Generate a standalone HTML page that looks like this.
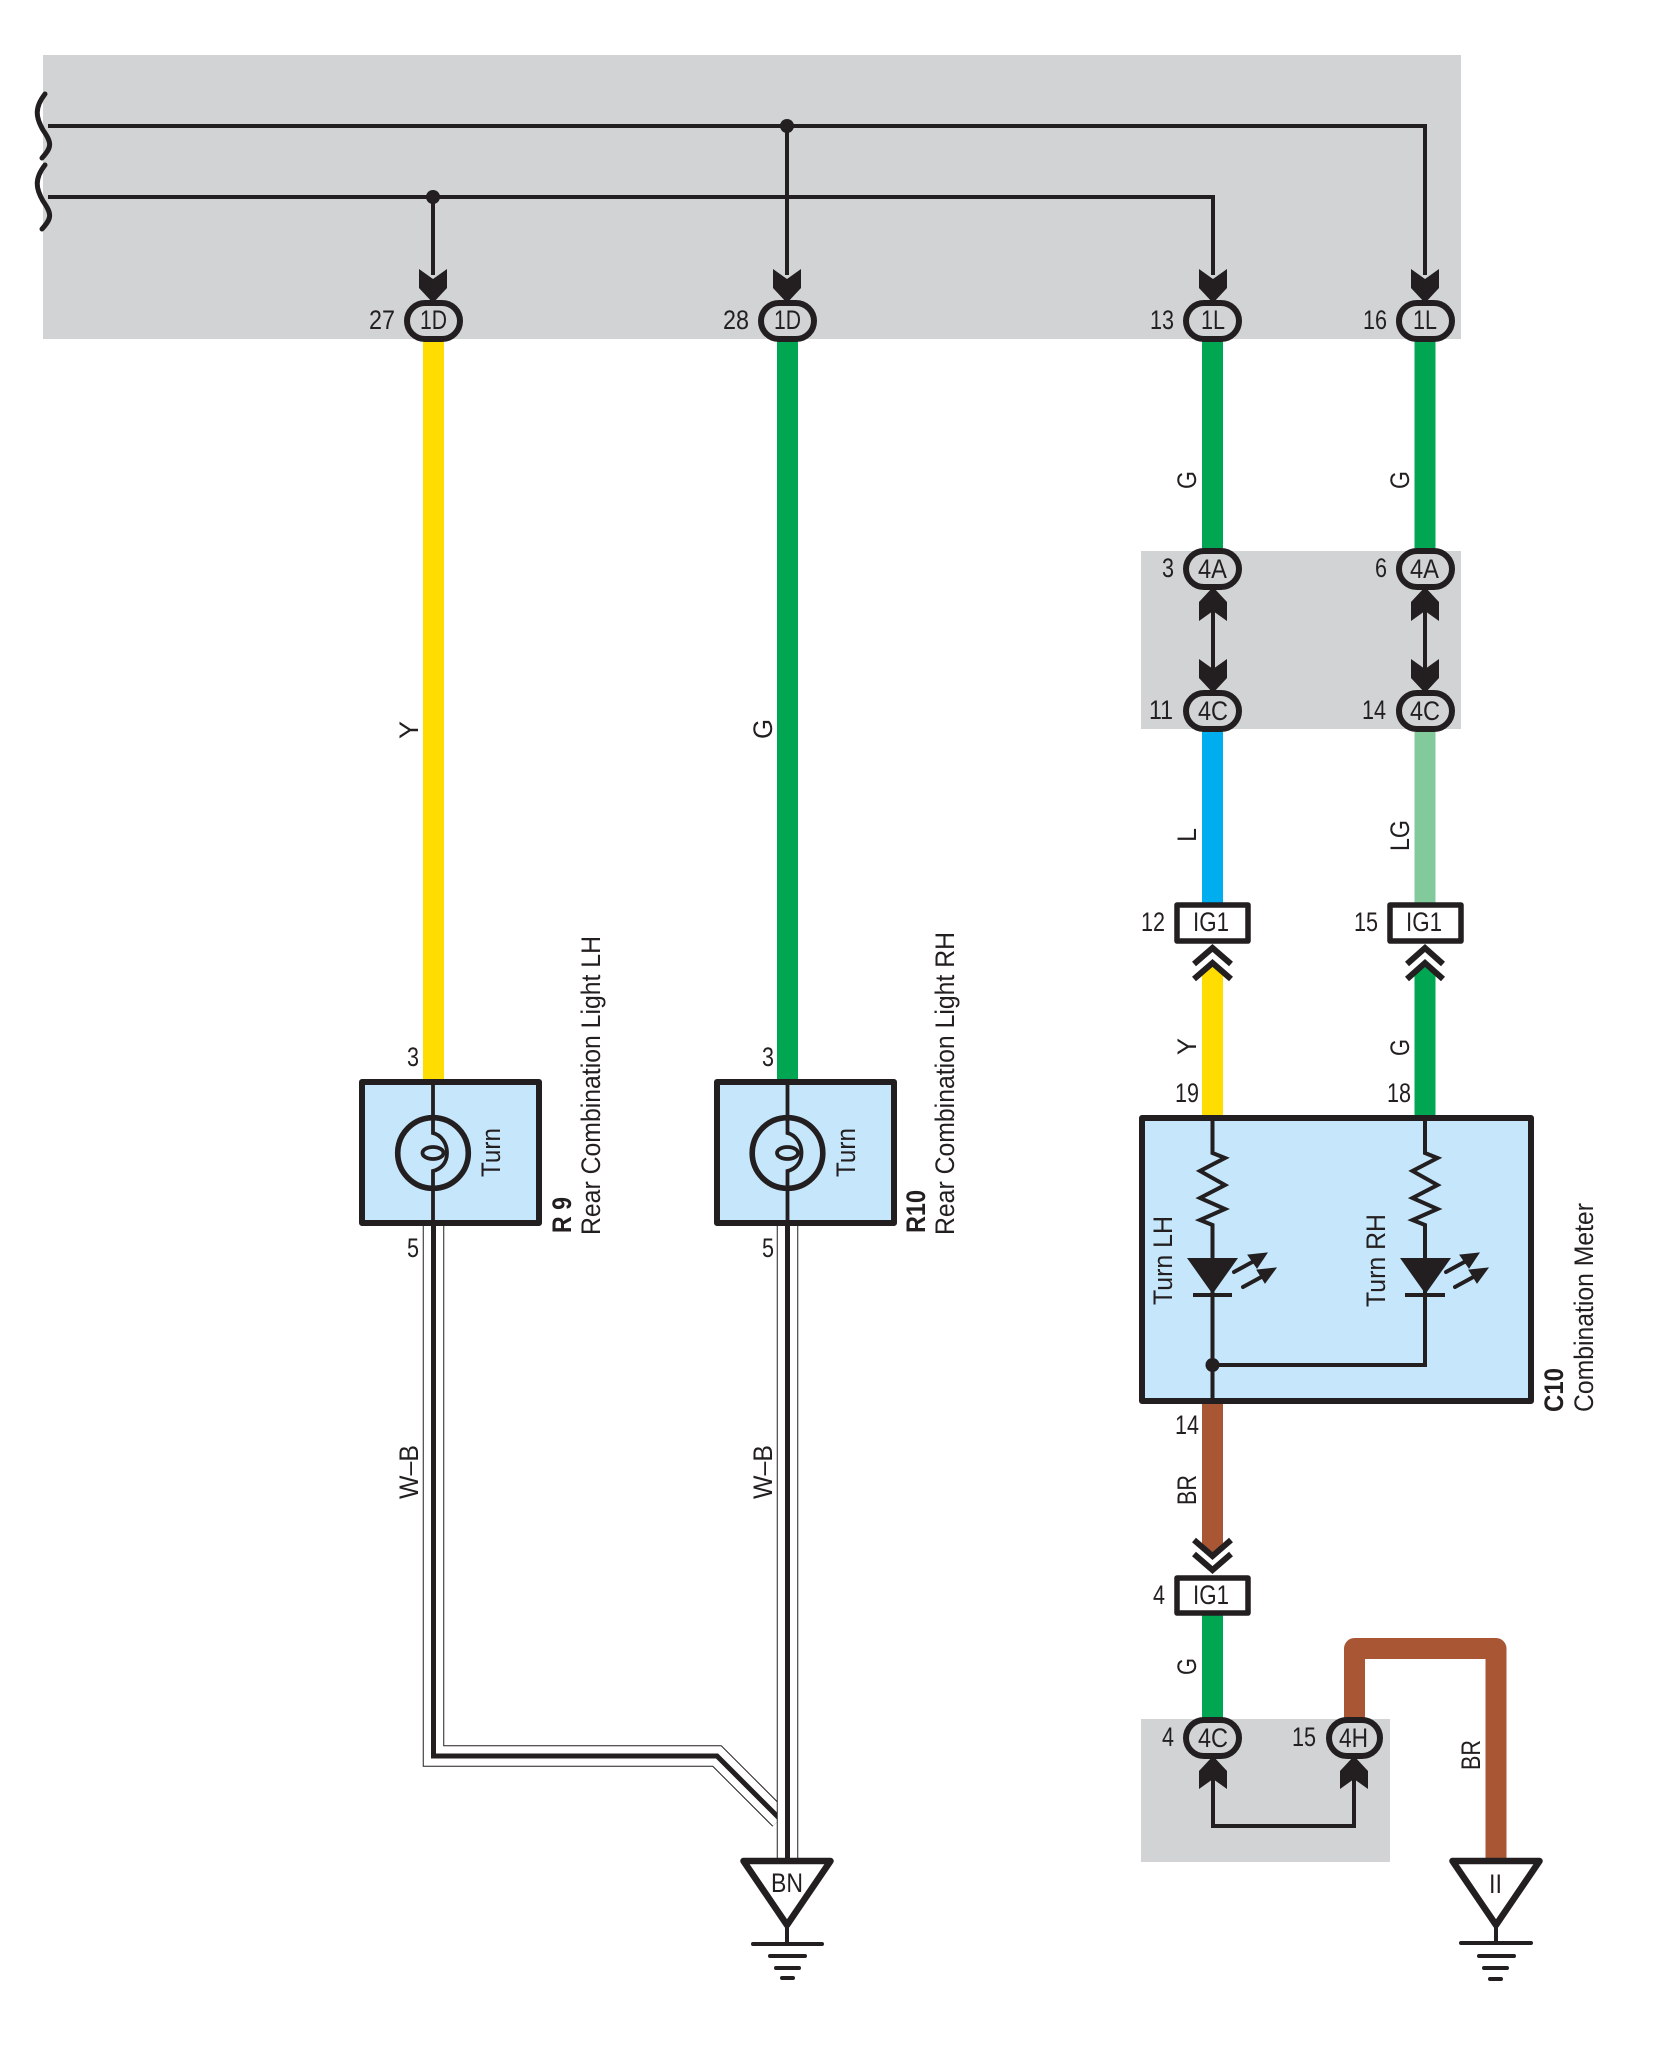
<!DOCTYPE html>
<html><head><meta charset="utf-8"><style>
html,body{margin:0;padding:0;background:#fff}
svg{display:block}
text{font-family:"Liberation Sans",sans-serif;font-size:27px;fill:#231f20}
.b{font-weight:bold}
</style></head><body>
<svg width="1656" height="2046" viewBox="0 0 1656 2046" xmlns="http://www.w3.org/2000/svg">
<!-- gray areas -->
<g fill="#d1d3d4">
<rect x="43" y="55" width="1418" height="284"/>
<rect x="1141" y="551" width="320" height="178"/>
<rect x="1141" y="1719" width="249" height="143"/>
</g>
<!-- color wires -->
<g fill="none" stroke-width="21">
<path d="M433.5 335V1085" stroke="#ffdd00"/>
<path d="M787.5 335V1085" stroke="#00a651"/>
<path d="M1212.5 335V555" stroke="#00a651"/>
<path d="M1425 335V555" stroke="#00a651"/>
<path d="M1212.5 725V905" stroke="#00aeef"/>
<path d="M1425 725V905" stroke="#82ca9c"/>
<path d="M1212.5 1610V1722" stroke="#00a651"/>
<path d="M1354.5 1722V1648.500H1496V1862" stroke="#a85634" stroke-linejoin="round"/>
</g>
<path d="M1202 1118V975L1212.500 965L1223 975V1118Z" fill="#ffdd00"/>
<path d="M1414.500 1118V975L1425 965L1435.500 975V1118Z" fill="#00a651"/>
<path d="M1202 1400V1543L1212.500 1554L1223 1543V1400Z" fill="#a85634"/>
<!-- boxes -->
<g fill="#c6e7fb" stroke="#231f20" stroke-width="6" stroke-linejoin="round">
<rect x="362" y="1082" width="177" height="141"/>
<rect x="717" y="1082" width="177" height="141"/>
<rect x="1142" y="1118" width="389" height="283"/>
</g>
<!-- top bus -->
<g fill="none" stroke="#231f20" stroke-width="4">
<path d="M48 126H1425V275"/>
<path d="M48 197H1213V275"/>
<path d="M433 197V275"/>
<path d="M787 126V275"/>
<path d="M1213 600V680"/>
<path d="M1425 600V680"/>
<path d="M1213 1770V1826H1354V1770"/>
</g>
<g fill="none" stroke="#231f20" stroke-width="5" stroke-linecap="round">
<path d="M45 94C34 108 36 118 43 130C52 143 52 147 42 158"/>
<path d="M45 165C34 179 36 189 43 201C52 214 52 218 42 229"/>
</g>
<g fill="#231f20">
<circle cx="433" cy="197" r="7"/>
<circle cx="787" cy="126" r="7"/>
<circle cx="1212.500" cy="1365" r="7"/>
</g>
<!-- arrows -->
<g fill="#231f20">
<path d="M419 269L433 279L447 269V288L433 303L419 288Z"/>
<path d="M773 269L787 279L801 269V288L787 303L773 288Z"/>
<path d="M1199 269L1213 279L1227 269V288L1213 303L1199 288Z"/>
<path d="M1411 269L1425 279L1439 269V288L1425 303L1411 288Z"/>
<path d="M1199 659L1213 669L1227 659V678L1213 693L1199 678Z"/>
<path d="M1411 659L1425 669L1439 659V678L1425 693L1411 678Z"/>
<path d="M1199 621L1213 611L1227 621V602L1213 587L1199 602Z"/>
<path d="M1411 621L1425 611L1439 621V602L1425 587L1411 602Z"/>
<path d="M1199 1789L1213 1779L1227 1789V1771L1213 1756L1199 1771Z"/>
<path d="M1340 1789L1354 1779L1368 1789V1771L1354 1756L1340 1771Z"/>
</g>
<!-- connectors oval -->
<g fill="#d1d3d4" stroke="#231f20" stroke-width="6">
<rect x="407" y="303" width="53" height="36" rx="18"/>
<rect x="761" y="303" width="53" height="36" rx="18"/>
<rect x="1186" y="303" width="53" height="36" rx="18"/>
<rect x="1399" y="303" width="53" height="36" rx="18"/>
<rect x="1186" y="551" width="53" height="36" rx="18"/>
<rect x="1399" y="551" width="53" height="36" rx="18"/>
<rect x="1186" y="693" width="53" height="36" rx="18"/>
<rect x="1399" y="693" width="53" height="36" rx="18"/>
<rect x="1186" y="1720" width="53" height="36" rx="18"/>
<rect x="1329" y="1720" width="51" height="36" rx="18"/>
</g>
<!-- IG1 boxes -->
<g fill="#fff" stroke="#231f20" stroke-width="5.500" stroke-linejoin="round">
<rect x="1177" y="905" width="71" height="36"/>
<rect x="1390" y="905" width="71" height="36"/>
<rect x="1177" y="1578" width="71" height="35"/>
</g>
<!-- chevrons -->
<g fill="none" stroke="#231f20" stroke-width="6">
<path d="M1194 964L1212.500 948L1231 964"/>
<path d="M1194 979L1212.500 963L1231 979"/>
<path d="M1407 964L1425 948L1443 964"/>
<path d="M1407 979L1425 963L1443 979"/>
<path d="M1194 1540L1212.500 1556L1231 1540"/>
<path d="M1194 1554L1212.500 1570L1231 1554"/>
</g>
<!-- bulbs -->
<g fill="none" stroke="#231f20">
<g stroke-width="3.800">
<path d="M433 1083V1133C441 1135 447 1143 447 1153C447 1163 441 1169 433 1171V1226"/>
<ellipse cx="433" cy="1153" rx="10.500" ry="6"/>
<path d="M787.500 1083V1133C795.500 1135 801.500 1143 801.500 1153C801.500 1163 795.500 1169 787.500 1171V1226"/>
<ellipse cx="787.500" cy="1153" rx="10.500" ry="6"/>
</g>
<circle cx="433" cy="1153" r="35.300" stroke-width="5.600"/>
<circle cx="787.500" cy="1153" r="35.300" stroke-width="5.600"/>
</g>
<!-- meter internals -->
<g fill="none" stroke="#231f20" stroke-width="4">
<path d="M1212.500 1118V1153L1225 1158L1200 1171L1225 1185L1200 1198L1225 1209L1200 1220L1212.500 1225V1404"/>
<path d="M1425 1118V1153L1437.500 1158L1412.500 1171L1437.500 1185L1412.500 1198L1437.500 1209L1412.500 1220L1425 1225V1365H1212.500"/>
<path d="M1193 1295H1232"/>
<path d="M1405 1295H1445"/>
</g>
<g fill="#231f20">
<path d="M1187 1258H1238L1212.500 1294Z"/>
<path d="M1400 1258H1451L1425.500 1294Z"/>
</g>
<g stroke="#231f20" stroke-width="4" fill="#231f20" stroke-linecap="round">
<path d="M1234 1272L1256 1260" />
<path d="M1267 1253L1248 1255L1257 1268Z" stroke-width="1"/>
<path d="M1243 1287L1265 1275" />
<path d="M1276 1268L1257 1270L1265 1283Z" stroke-width="1"/>
<path d="M1446 1272L1468 1260" />
<path d="M1479 1253L1460 1255L1469 1268Z" stroke-width="1"/>
<path d="M1455 1287L1477 1275" />
<path d="M1488 1268L1469 1270L1477 1283Z" stroke-width="1"/>
</g>
<!-- W-B wires -->
<g fill="none" stroke-linejoin="miter">
<path d="M433.500 1226V1756H717L780 1819" stroke="#231f20" stroke-width="21.500"/>
<path d="M433.500 1226V1756H717L780 1819" stroke="#fff" stroke-width="19.500"/>
<path d="M433.500 1226V1756H717L780 1819" stroke="#231f20" stroke-width="5"/>
<path d="M787.500 1226V1864" stroke="#231f20" stroke-width="21.500"/>
<path d="M787.500 1226V1864" stroke="#fff" stroke-width="19.500"/>
<path d="M787.500 1226V1864" stroke="#231f20" stroke-width="5"/>
</g>
<!-- grounds -->
<g fill="#fff" stroke="#231f20" stroke-width="6.500" stroke-linejoin="round">
<path d="M743.500 1861H830.500L787 1925Z"/>
<path d="M1452.500 1861H1539.500L1496 1925Z"/>
</g>
<g stroke="#231f20" stroke-width="4" stroke-linecap="round" fill="none">
<path d="M787 1926V1944M753 1944H822M770 1956H805M776 1968H799M782 1978H793"/>
<path d="M1496 1926V1943M1461 1943H1531M1479 1956H1514M1484 1968H1507M1490 1979H1501"/>
</g>
<!-- connector text -->
<g>
<text x="420" y="329" textLength="27" lengthAdjust="spacingAndGlyphs">1D</text>
<text x="774" y="329" textLength="27" lengthAdjust="spacingAndGlyphs">1D</text>
<text x="1201" y="329" textLength="24" lengthAdjust="spacingAndGlyphs">1L</text>
<text x="1413" y="329" textLength="24" lengthAdjust="spacingAndGlyphs">1L</text>
<text x="1198" y="578" textLength="29" lengthAdjust="spacingAndGlyphs">4A</text>
<text x="1410" y="578" textLength="29" lengthAdjust="spacingAndGlyphs">4A</text>
<text x="1198" y="720" textLength="30" lengthAdjust="spacingAndGlyphs">4C</text>
<text x="1410" y="720" textLength="30" lengthAdjust="spacingAndGlyphs">4C</text>
<text x="1198" y="1747" textLength="30" lengthAdjust="spacingAndGlyphs">4C</text>
<text x="1339" y="1747" textLength="29" lengthAdjust="spacingAndGlyphs">4H</text>
<text x="1193" y="931" textLength="36" lengthAdjust="spacingAndGlyphs">IG1</text>
<text x="1406" y="931" textLength="36" lengthAdjust="spacingAndGlyphs">IG1</text>
<text x="1193" y="1604" textLength="36" lengthAdjust="spacingAndGlyphs">IG1</text>
<text x="771" y="1892" textLength="32" lengthAdjust="spacingAndGlyphs">BN</text>
<text x="1489" y="1893" textLength="13" lengthAdjust="spacingAndGlyphs">II</text>
<!-- numbers -->
<text x="369" y="329" textLength="26" lengthAdjust="spacingAndGlyphs">27</text>
<text x="723" y="329" textLength="26" lengthAdjust="spacingAndGlyphs">28</text>
<text x="1150" y="329" textLength="24" lengthAdjust="spacingAndGlyphs">13</text>
<text x="1363" y="329" textLength="24" lengthAdjust="spacingAndGlyphs">16</text>
<text x="1162" y="577" textLength="12" lengthAdjust="spacingAndGlyphs">3</text>
<text x="1375" y="577" textLength="12" lengthAdjust="spacingAndGlyphs">6</text>
<text x="1149" y="719" textLength="24" lengthAdjust="spacingAndGlyphs">11</text>
<text x="1362" y="719" textLength="24" lengthAdjust="spacingAndGlyphs">14</text>
<text x="1141" y="931" textLength="24" lengthAdjust="spacingAndGlyphs">12</text>
<text x="1354" y="931" textLength="24" lengthAdjust="spacingAndGlyphs">15</text>
<text x="1175" y="1102" textLength="24" lengthAdjust="spacingAndGlyphs">19</text>
<text x="1387" y="1102" textLength="24" lengthAdjust="spacingAndGlyphs">18</text>
<text x="1175" y="1434" textLength="24" lengthAdjust="spacingAndGlyphs">14</text>
<text x="1153" y="1604" textLength="12" lengthAdjust="spacingAndGlyphs">4</text>
<text x="1162" y="1746" textLength="12" lengthAdjust="spacingAndGlyphs">4</text>
<text x="1292" y="1746" textLength="24" lengthAdjust="spacingAndGlyphs">15</text>
<text x="407" y="1066" textLength="12" lengthAdjust="spacingAndGlyphs">3</text>
<text x="762" y="1066" textLength="12" lengthAdjust="spacingAndGlyphs">3</text>
<text x="407" y="1257" textLength="12" lengthAdjust="spacingAndGlyphs">5</text>
<text x="762" y="1257" textLength="12" lengthAdjust="spacingAndGlyphs">5</text>
<!-- rotated labels -->
<text transform="translate(418,739) rotate(-90)" textLength="18" lengthAdjust="spacingAndGlyphs">Y</text>
<text transform="translate(772,739) rotate(-90)" textLength="20" lengthAdjust="spacingAndGlyphs">G</text>
<text transform="translate(1196,489) rotate(-90)" textLength="18" lengthAdjust="spacingAndGlyphs">G</text>
<text transform="translate(1409,489) rotate(-90)" textLength="18" lengthAdjust="spacingAndGlyphs">G</text>
<text transform="translate(1196,842) rotate(-90)" textLength="14" lengthAdjust="spacingAndGlyphs">L</text>
<text transform="translate(1409,851) rotate(-90)" textLength="31" lengthAdjust="spacingAndGlyphs">LG</text>
<text transform="translate(1196,1055) rotate(-90)" textLength="17" lengthAdjust="spacingAndGlyphs">Y</text>
<text transform="translate(1409,1056) rotate(-90)" textLength="17" lengthAdjust="spacingAndGlyphs">G</text>
<text transform="translate(1196,1505) rotate(-90)" textLength="30" lengthAdjust="spacingAndGlyphs">BR</text>
<text transform="translate(1196,1675) rotate(-90)" textLength="17" lengthAdjust="spacingAndGlyphs">G</text>
<text transform="translate(1480,1770) rotate(-90)" textLength="30" lengthAdjust="spacingAndGlyphs">BR</text>
<text transform="translate(418,1499) rotate(-90)" textLength="54" lengthAdjust="spacingAndGlyphs">W–B</text>
<text transform="translate(772,1499) rotate(-90)" textLength="54" lengthAdjust="spacingAndGlyphs">W–B</text>
<text transform="translate(500,1177) rotate(-90)" textLength="49" lengthAdjust="spacingAndGlyphs">Turn</text>
<text transform="translate(855,1177) rotate(-90)" textLength="49" lengthAdjust="spacingAndGlyphs">Turn</text>
<text transform="translate(1172,1305) rotate(-90)" textLength="89" lengthAdjust="spacingAndGlyphs">Turn LH</text>
<text transform="translate(1385,1307) rotate(-90)" textLength="93" lengthAdjust="spacingAndGlyphs">Turn RH</text>
<text class="b" transform="translate(571,1233) rotate(-90)" textLength="36" lengthAdjust="spacingAndGlyphs">R 9</text>
<text class="b" transform="translate(925,1233) rotate(-90)" textLength="43" lengthAdjust="spacingAndGlyphs">R10</text>
<text transform="translate(600,1235) rotate(-90)" textLength="299" lengthAdjust="spacingAndGlyphs">Rear Combination Light LH</text>
<text transform="translate(954,1235) rotate(-90)" textLength="303" lengthAdjust="spacingAndGlyphs">Rear Combination Light RH</text>
<text class="b" transform="translate(1563,1412) rotate(-90)" textLength="44" lengthAdjust="spacingAndGlyphs">C10</text>
<text transform="translate(1593,1412) rotate(-90)" textLength="209" lengthAdjust="spacingAndGlyphs">Combination Meter</text>
</g>
</svg>
</body></html>
